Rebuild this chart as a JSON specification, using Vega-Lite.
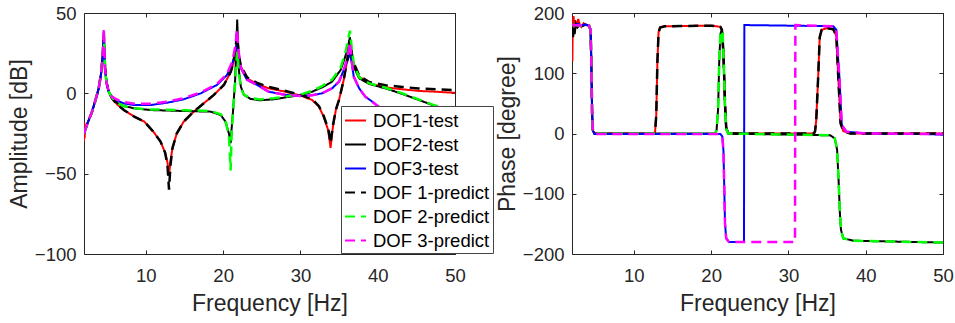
{
  "$schema": "https://vega.github.io/schema/vega-lite/v6.json",
  "background": "white",
  "padding": {"left": 7, "top": 3, "right": 2, "bottom": 2},
  "bounds": "flush",
  "spacing": 117,
  "config": {
    "font": "Liberation Sans",
    "view": {"stroke": "#262626", "strokeWidth": 1},
    "axis": {
      "grid": false,
      "domain": false,
      "ticks": true,
      "tickColor": "#262626",
      "tickSize": -4,
      "labelFont": "Liberation Sans",
      "labelFontSize": 18.5,
      "labelColor": "#262626",
      "labelPadding": 12,
      "labelFlush": false,
      "titleFont": "Liberation Sans",
      "titleFontSize": 23,
      "titleFontWeight": "normal",
      "titleColor": "#262626"
    }
  },
  "datasets": {
    "amp": [
      {"s":"DOF1-test","f":2,"v":-30},{"s":"DOF1-test","f":2.04,"v":-18},{"s":"DOF1-test","f":2.08,"v":-28},{"s":"DOF1-test","f":2.15,"v":-21},{"s":"DOF1-test","f":2.3,"v":-20},{"s":"DOF1-test","f":2.6,"v":-17},{"s":"DOF1-test","f":3,"v":-12},{"s":"DOF1-test","f":3.5,"v":-4},{"s":"DOF1-test","f":3.9,"v":3},{"s":"DOF1-test","f":4.2,"v":12},{"s":"DOF1-test","f":4.4,"v":22},{"s":"DOF1-test","f":4.5,"v":30},{"s":"DOF1-test","f":4.56,"v":35},{"s":"DOF1-test","f":4.62,"v":29},{"s":"DOF1-test","f":4.72,"v":16},{"s":"DOF1-test","f":4.9,"v":7},{"s":"DOF1-test","f":5.2,"v":1},{"s":"DOF1-test","f":5.6,"v":-3},{"s":"DOF1-test","f":6.3,"v":-7},{"s":"DOF1-test","f":7.2,"v":-10.5},{"s":"DOF1-test","f":8.5,"v":-14.5},{"s":"DOF1-test","f":9.8,"v":-17.6},{"s":"DOF1-test","f":11,"v":-24},{"s":"DOF1-test","f":11.9,"v":-30},{"s":"DOF1-test","f":12.5,"v":-37},{"s":"DOF1-test","f":12.8,"v":-43},{"s":"DOF1-test","f":13,"v":-51},{"s":"DOF1-test","f":13.2,"v":-42},{"s":"DOF1-test","f":13.45,"v":-34},{"s":"DOF1-test","f":14,"v":-25},{"s":"DOF1-test","f":14.9,"v":-17.6},{"s":"DOF1-test","f":16.2,"v":-11.4},{"s":"DOF1-test","f":17.5,"v":-6.2},{"s":"DOF1-test","f":18.8,"v":-1},{"s":"DOF1-test","f":20.1,"v":5.2},{"s":"DOF1-test","f":21,"v":13.5},{"s":"DOF1-test","f":21.5,"v":22},{"s":"DOF1-test","f":21.8,"v":30},{"s":"DOF1-test","f":22.05,"v":22},{"s":"DOF1-test","f":22.3,"v":16.6},{"s":"DOF1-test","f":23.1,"v":9.3},{"s":"DOF1-test","f":24.4,"v":5.8},{"s":"DOF1-test","f":25.9,"v":3.1},{"s":"DOF1-test","f":28.1,"v":1},{"s":"DOF1-test","f":30.2,"v":-1.7},{"s":"DOF1-test","f":31.5,"v":-4.1},{"s":"DOF1-test","f":32.4,"v":-8.3},{"s":"DOF1-test","f":33,"v":-14.5},{"s":"DOF1-test","f":33.6,"v":-23},{"s":"DOF1-test","f":33.9,"v":-34},{"s":"DOF1-test","f":34.2,"v":-21},{"s":"DOF1-test","f":34.6,"v":-10},{"s":"DOF1-test","f":35,"v":-4},{"s":"DOF1-test","f":35.6,"v":8.3},{"s":"DOF1-test","f":36.06,"v":20.7},{"s":"DOF1-test","f":36.4,"v":29},{"s":"DOF1-test","f":36.7,"v":22},{"s":"DOF1-test","f":36.9,"v":18.7},{"s":"DOF1-test","f":37.6,"v":10.4},{"s":"DOF1-test","f":38.9,"v":6.2},{"s":"DOF1-test","f":41,"v":3.7},{"s":"DOF1-test","f":43.2,"v":2.5},{"s":"DOF1-test","f":45.3,"v":1.5},{"s":"DOF1-test","f":47.5,"v":1},{"s":"DOF1-test","f":50,"v":0.3},

      {"s":"DOF2-test","f":2,"v":-25},{"s":"DOF2-test","f":2.5,"v":-18},{"s":"DOF2-test","f":3,"v":-12},{"s":"DOF2-test","f":3.5,"v":-4},{"s":"DOF2-test","f":3.9,"v":3},{"s":"DOF2-test","f":4.2,"v":12},{"s":"DOF2-test","f":4.4,"v":22},{"s":"DOF2-test","f":4.5,"v":31},{"s":"DOF2-test","f":4.56,"v":37},{"s":"DOF2-test","f":4.62,"v":30},{"s":"DOF2-test","f":4.72,"v":16},{"s":"DOF2-test","f":4.9,"v":7},{"s":"DOF2-test","f":5.2,"v":1},{"s":"DOF2-test","f":5.6,"v":-2.5},{"s":"DOF2-test","f":6.3,"v":-6},{"s":"DOF2-test","f":7.2,"v":-8},{"s":"DOF2-test","f":8.5,"v":-9.3},{"s":"DOF2-test","f":10.6,"v":-10.4},{"s":"DOF2-test","f":14.9,"v":-11},{"s":"DOF2-test","f":18.4,"v":-11.4},{"s":"DOF2-test","f":19.7,"v":-13.5},{"s":"DOF2-test","f":20.3,"v":-17.6},{"s":"DOF2-test","f":20.75,"v":-25},{"s":"DOF2-test","f":20.97,"v":-31},{"s":"DOF2-test","f":21.1,"v":-22},{"s":"DOF2-test","f":21.3,"v":-10},{"s":"DOF2-test","f":21.55,"v":8},{"s":"DOF2-test","f":21.72,"v":30},{"s":"DOF2-test","f":21.82,"v":46},{"s":"DOF2-test","f":21.92,"v":32},{"s":"DOF2-test","f":22.05,"v":14},{"s":"DOF2-test","f":22.3,"v":4},{"s":"DOF2-test","f":22.7,"v":-1},{"s":"DOF2-test","f":23.55,"v":-3.5},{"s":"DOF2-test","f":24.8,"v":-4.3},{"s":"DOF2-test","f":26.6,"v":-3.7},{"s":"DOF2-test","f":28.1,"v":-2.5},{"s":"DOF2-test","f":30.2,"v":-1},{"s":"DOF2-test","f":31.5,"v":1},{"s":"DOF2-test","f":32.8,"v":3.7},{"s":"DOF2-test","f":34.1,"v":7.3},{"s":"DOF2-test","f":35.2,"v":14.5},{"s":"DOF2-test","f":35.8,"v":22.8},{"s":"DOF2-test","f":36.2,"v":30},{"s":"DOF2-test","f":36.4,"v":35},{"s":"DOF2-test","f":36.6,"v":27},{"s":"DOF2-test","f":36.9,"v":16.6},{"s":"DOF2-test","f":37.6,"v":9.3},{"s":"DOF2-test","f":38.9,"v":5.8},{"s":"DOF2-test","f":41,"v":3.1},{"s":"DOF2-test","f":43.2,"v":-0.4},{"s":"DOF2-test","f":45.3,"v":-4.1},{"s":"DOF2-test","f":47.1,"v":-7.3},{"s":"DOF2-test","f":48.5,"v":-9.5},{"s":"DOF2-test","f":50,"v":-11},

      {"s":"DOF3-test","f":2,"v":-25},{"s":"DOF3-test","f":2.5,"v":-18},{"s":"DOF3-test","f":3,"v":-12},{"s":"DOF3-test","f":3.5,"v":-4},{"s":"DOF3-test","f":3.9,"v":3},{"s":"DOF3-test","f":4.2,"v":12},{"s":"DOF3-test","f":4.4,"v":22},{"s":"DOF3-test","f":4.5,"v":31},{"s":"DOF3-test","f":4.56,"v":38},{"s":"DOF3-test","f":4.62,"v":30},{"s":"DOF3-test","f":4.72,"v":16},{"s":"DOF3-test","f":4.9,"v":7},{"s":"DOF3-test","f":5.2,"v":1},{"s":"DOF3-test","f":5.6,"v":-2},{"s":"DOF3-test","f":6.3,"v":-4.6},{"s":"DOF3-test","f":7.2,"v":-6.3},{"s":"DOF3-test","f":8.5,"v":-7.3},{"s":"DOF3-test","f":10.6,"v":-7.3},{"s":"DOF3-test","f":12.8,"v":-5.8},{"s":"DOF3-test","f":14.9,"v":-3.7},{"s":"DOF3-test","f":17.1,"v":0},{"s":"DOF3-test","f":19.2,"v":5.2},{"s":"DOF3-test","f":20.5,"v":11.4},{"s":"DOF3-test","f":21.2,"v":18.7},{"s":"DOF3-test","f":21.6,"v":26},{"s":"DOF3-test","f":21.8,"v":32},{"s":"DOF3-test","f":22,"v":25},{"s":"DOF3-test","f":22.3,"v":15.6},{"s":"DOF3-test","f":23.1,"v":8.3},{"s":"DOF3-test","f":24.4,"v":5.2},{"s":"DOF3-test","f":25.9,"v":1},{"s":"DOF3-test","f":28.1,"v":-1},{"s":"DOF3-test","f":30.2,"v":-1.7},{"s":"DOF3-test","f":31.5,"v":-1.2},{"s":"DOF3-test","f":32.8,"v":0},{"s":"DOF3-test","f":34.1,"v":3.1},{"s":"DOF3-test","f":35,"v":7.3},{"s":"DOF3-test","f":35.6,"v":14.5},{"s":"DOF3-test","f":36.06,"v":20},{"s":"DOF3-test","f":36.4,"v":25},{"s":"DOF3-test","f":36.7,"v":17},{"s":"DOF3-test","f":36.9,"v":10.4},{"s":"DOF3-test","f":37.6,"v":3.1},{"s":"DOF3-test","f":38.4,"v":-2.1},{"s":"DOF3-test","f":39.3,"v":-5.2},{"s":"DOF3-test","f":40.1,"v":-8.3},{"s":"DOF3-test","f":42,"v":-13},{"s":"DOF3-test","f":45,"v":-19},{"s":"DOF3-test","f":50,"v":-26},

      {"s":"DOF 1-predict","f":2,"v":-25},{"s":"DOF 1-predict","f":2.5,"v":-18},{"s":"DOF 1-predict","f":3,"v":-12},{"s":"DOF 1-predict","f":3.5,"v":-4},{"s":"DOF 1-predict","f":3.9,"v":3},{"s":"DOF 1-predict","f":4.2,"v":12},{"s":"DOF 1-predict","f":4.4,"v":22},{"s":"DOF 1-predict","f":4.5,"v":30},{"s":"DOF 1-predict","f":4.56,"v":36},{"s":"DOF 1-predict","f":4.62,"v":29},{"s":"DOF 1-predict","f":4.72,"v":16},{"s":"DOF 1-predict","f":4.9,"v":7},{"s":"DOF 1-predict","f":5.2,"v":1},{"s":"DOF 1-predict","f":5.6,"v":-3},{"s":"DOF 1-predict","f":6.3,"v":-7},{"s":"DOF 1-predict","f":7.2,"v":-10.5},{"s":"DOF 1-predict","f":8.5,"v":-14.5},{"s":"DOF 1-predict","f":9.8,"v":-17.6},{"s":"DOF 1-predict","f":11,"v":-24},{"s":"DOF 1-predict","f":11.9,"v":-30},{"s":"DOF 1-predict","f":12.5,"v":-37},{"s":"DOF 1-predict","f":12.8,"v":-45},{"s":"DOF 1-predict","f":13,"v":-60},{"s":"DOF 1-predict","f":13.2,"v":-44},{"s":"DOF 1-predict","f":13.45,"v":-34},{"s":"DOF 1-predict","f":14,"v":-25},{"s":"DOF 1-predict","f":14.9,"v":-17.6},{"s":"DOF 1-predict","f":16.2,"v":-11.4},{"s":"DOF 1-predict","f":17.5,"v":-6.2},{"s":"DOF 1-predict","f":18.8,"v":-1},{"s":"DOF 1-predict","f":20.1,"v":5.2},{"s":"DOF 1-predict","f":21,"v":13.5},{"s":"DOF 1-predict","f":21.5,"v":23},{"s":"DOF 1-predict","f":21.8,"v":37},{"s":"DOF 1-predict","f":22.05,"v":23},{"s":"DOF 1-predict","f":22.3,"v":17},{"s":"DOF 1-predict","f":23.1,"v":10},{"s":"DOF 1-predict","f":24.4,"v":6.5},{"s":"DOF 1-predict","f":25.9,"v":4},{"s":"DOF 1-predict","f":28.1,"v":1.5},{"s":"DOF 1-predict","f":30.2,"v":-1.2},{"s":"DOF 1-predict","f":31.5,"v":-3.6},{"s":"DOF 1-predict","f":32.4,"v":-8},{"s":"DOF 1-predict","f":33,"v":-14},{"s":"DOF 1-predict","f":33.6,"v":-22},{"s":"DOF 1-predict","f":33.9,"v":-31},{"s":"DOF 1-predict","f":34.2,"v":-20},{"s":"DOF 1-predict","f":34.6,"v":-10},{"s":"DOF 1-predict","f":35,"v":-4},{"s":"DOF 1-predict","f":35.6,"v":8.3},{"s":"DOF 1-predict","f":36.06,"v":21},{"s":"DOF 1-predict","f":36.4,"v":33},{"s":"DOF 1-predict","f":36.7,"v":23},{"s":"DOF 1-predict","f":36.9,"v":19},{"s":"DOF 1-predict","f":37.6,"v":11},{"s":"DOF 1-predict","f":38.9,"v":7},{"s":"DOF 1-predict","f":41,"v":5},{"s":"DOF 1-predict","f":43.2,"v":4},{"s":"DOF 1-predict","f":45.3,"v":3},{"s":"DOF 1-predict","f":47.5,"v":2.5},{"s":"DOF 1-predict","f":50,"v":2},

      {"s":"DOF 2-predict","f":2,"v":-25},{"s":"DOF 2-predict","f":2.5,"v":-18},{"s":"DOF 2-predict","f":3,"v":-12},{"s":"DOF 2-predict","f":3.5,"v":-4},{"s":"DOF 2-predict","f":3.9,"v":3},{"s":"DOF 2-predict","f":4.2,"v":12},{"s":"DOF 2-predict","f":4.4,"v":22},{"s":"DOF 2-predict","f":4.5,"v":31},{"s":"DOF 2-predict","f":4.56,"v":37},{"s":"DOF 2-predict","f":4.62,"v":30},{"s":"DOF 2-predict","f":4.72,"v":16},{"s":"DOF 2-predict","f":4.9,"v":7},{"s":"DOF 2-predict","f":5.2,"v":1},{"s":"DOF 2-predict","f":5.6,"v":-2.5},{"s":"DOF 2-predict","f":6.3,"v":-6},{"s":"DOF 2-predict","f":7.2,"v":-8},{"s":"DOF 2-predict","f":8.5,"v":-9.3},{"s":"DOF 2-predict","f":10.6,"v":-10},{"s":"DOF 2-predict","f":14.9,"v":-10.5},{"s":"DOF 2-predict","f":18.4,"v":-11},{"s":"DOF 2-predict","f":19.7,"v":-13},{"s":"DOF 2-predict","f":20.3,"v":-17},{"s":"DOF 2-predict","f":20.75,"v":-26},{"s":"DOF 2-predict","f":20.97,"v":-48},{"s":"DOF 2-predict","f":21.1,"v":-26},{"s":"DOF 2-predict","f":21.3,"v":-10},{"s":"DOF 2-predict","f":21.55,"v":6},{"s":"DOF 2-predict","f":21.72,"v":20},{"s":"DOF 2-predict","f":21.82,"v":26},{"s":"DOF 2-predict","f":21.92,"v":22},{"s":"DOF 2-predict","f":22.05,"v":12},{"s":"DOF 2-predict","f":22.3,"v":3},{"s":"DOF 2-predict","f":22.7,"v":-1},{"s":"DOF 2-predict","f":23.55,"v":-3},{"s":"DOF 2-predict","f":24.8,"v":-3.8},{"s":"DOF 2-predict","f":26.6,"v":-3},{"s":"DOF 2-predict","f":28.1,"v":-2},{"s":"DOF 2-predict","f":30.2,"v":-0.5},{"s":"DOF 2-predict","f":31.5,"v":1.5},{"s":"DOF 2-predict","f":32.8,"v":4.5},{"s":"DOF 2-predict","f":34.1,"v":8.5},{"s":"DOF 2-predict","f":35.2,"v":16},{"s":"DOF 2-predict","f":35.8,"v":25},{"s":"DOF 2-predict","f":36.2,"v":34},{"s":"DOF 2-predict","f":36.4,"v":39},{"s":"DOF 2-predict","f":36.6,"v":30},{"s":"DOF 2-predict","f":36.9,"v":18},{"s":"DOF 2-predict","f":37.6,"v":10},{"s":"DOF 2-predict","f":38.9,"v":6.2},{"s":"DOF 2-predict","f":41,"v":3.5},{"s":"DOF 2-predict","f":43.2,"v":0},{"s":"DOF 2-predict","f":45.3,"v":-3.8},{"s":"DOF 2-predict","f":47.1,"v":-7},{"s":"DOF 2-predict","f":48.5,"v":-9.3},{"s":"DOF 2-predict","f":50,"v":-11},

      {"s":"DOF 3-predict","f":2,"v":-25},{"s":"DOF 3-predict","f":2.5,"v":-18},{"s":"DOF 3-predict","f":3,"v":-12},{"s":"DOF 3-predict","f":3.5,"v":-4},{"s":"DOF 3-predict","f":3.9,"v":3},{"s":"DOF 3-predict","f":4.2,"v":12},{"s":"DOF 3-predict","f":4.4,"v":22},{"s":"DOF 3-predict","f":4.5,"v":32},{"s":"DOF 3-predict","f":4.56,"v":40.5},{"s":"DOF 3-predict","f":4.62,"v":31},{"s":"DOF 3-predict","f":4.72,"v":16},{"s":"DOF 3-predict","f":4.9,"v":7},{"s":"DOF 3-predict","f":5.2,"v":1},{"s":"DOF 3-predict","f":5.6,"v":-2},{"s":"DOF 3-predict","f":6.3,"v":-4},{"s":"DOF 3-predict","f":7.2,"v":-5.5},{"s":"DOF 3-predict","f":8.5,"v":-6.5},{"s":"DOF 3-predict","f":10.6,"v":-6.5},{"s":"DOF 3-predict","f":12.8,"v":-5.2},{"s":"DOF 3-predict","f":14.9,"v":-3},{"s":"DOF 3-predict","f":17.1,"v":0.5},{"s":"DOF 3-predict","f":19.2,"v":5.8},{"s":"DOF 3-predict","f":20.5,"v":12},{"s":"DOF 3-predict","f":21.2,"v":20},{"s":"DOF 3-predict","f":21.6,"v":30},{"s":"DOF 3-predict","f":21.8,"v":40},{"s":"DOF 3-predict","f":22,"v":26},{"s":"DOF 3-predict","f":22.3,"v":16},{"s":"DOF 3-predict","f":23.1,"v":8.5},{"s":"DOF 3-predict","f":24.4,"v":5.2},{"s":"DOF 3-predict","f":25.9,"v":1},{"s":"DOF 3-predict","f":28.1,"v":-1},{"s":"DOF 3-predict","f":30.2,"v":-1.7},{"s":"DOF 3-predict","f":31.5,"v":-1.2},{"s":"DOF 3-predict","f":32.8,"v":0},{"s":"DOF 3-predict","f":34.1,"v":3.1},{"s":"DOF 3-predict","f":35,"v":7.3},{"s":"DOF 3-predict","f":35.6,"v":14.5},{"s":"DOF 3-predict","f":36.06,"v":22},{"s":"DOF 3-predict","f":36.4,"v":32},{"s":"DOF 3-predict","f":36.7,"v":18},{"s":"DOF 3-predict","f":36.9,"v":10.4},{"s":"DOF 3-predict","f":37.6,"v":3.1},{"s":"DOF 3-predict","f":38.4,"v":-2.1},{"s":"DOF 3-predict","f":39.3,"v":-5.2},{"s":"DOF 3-predict","f":40.1,"v":-8.3},{"s":"DOF 3-predict","f":42,"v":-13},{"s":"DOF 3-predict","f":45,"v":-19},{"s":"DOF 3-predict","f":50,"v":-26}
    ],
    "phase": [
      {"s":"DOF1-test","f":2,"v":165},{"s":"DOF1-test","f":2.05,"v":120},{"s":"DOF1-test","f":2.1,"v":185},{"s":"DOF1-test","f":2.2,"v":195},{"s":"DOF1-test","f":2.3,"v":176},{"s":"DOF1-test","f":2.4,"v":188},{"s":"DOF1-test","f":2.6,"v":178},{"s":"DOF1-test","f":2.8,"v":190},{"s":"DOF1-test","f":3,"v":181},{"s":"DOF1-test","f":3.2,"v":177},{"s":"DOF1-test","f":3.5,"v":183},{"s":"DOF1-test","f":3.8,"v":180},{"s":"DOF1-test","f":4.2,"v":179},{"s":"DOF1-test","f":4.4,"v":172},{"s":"DOF1-test","f":4.5,"v":120},{"s":"DOF1-test","f":4.6,"v":35},{"s":"DOF1-test","f":4.7,"v":5},{"s":"DOF1-test","f":4.9,"v":0},{"s":"DOF1-test","f":12.6,"v":0},{"s":"DOF1-test","f":12.75,"v":3},{"s":"DOF1-test","f":12.9,"v":30},{"s":"DOF1-test","f":13.05,"v":120},{"s":"DOF1-test","f":13.2,"v":168},{"s":"DOF1-test","f":13.4,"v":176},{"s":"DOF1-test","f":14,"v":178},{"s":"DOF1-test","f":20,"v":179},{"s":"DOF1-test","f":21.2,"v":177},{"s":"DOF1-test","f":21.4,"v":172},{"s":"DOF1-test","f":21.6,"v":130},{"s":"DOF1-test","f":21.8,"v":50},{"s":"DOF1-test","f":21.95,"v":10},{"s":"DOF1-test","f":22.2,"v":0},{"s":"DOF1-test","f":33.3,"v":0},{"s":"DOF1-test","f":33.45,"v":4},{"s":"DOF1-test","f":33.6,"v":22},{"s":"DOF1-test","f":33.85,"v":94},{"s":"DOF1-test","f":34.05,"v":160},{"s":"DOF1-test","f":34.3,"v":172},{"s":"DOF1-test","f":35,"v":175},{"s":"DOF1-test","f":35.8,"v":173},{"s":"DOF1-test","f":36.2,"v":162},{"s":"DOF1-test","f":36.45,"v":94},{"s":"DOF1-test","f":36.75,"v":17},{"s":"DOF1-test","f":37.1,"v":4},{"s":"DOF1-test","f":38,"v":0},{"s":"DOF1-test","f":50,"v":0},

      {"s":"DOF2-test","f":2,"v":178},{"s":"DOF2-test","f":2.1,"v":172},{"s":"DOF2-test","f":2.15,"v":160},{"s":"DOF2-test","f":2.25,"v":175},{"s":"DOF2-test","f":2.35,"v":165},{"s":"DOF2-test","f":2.5,"v":182},{"s":"DOF2-test","f":2.7,"v":176},{"s":"DOF2-test","f":3,"v":180},{"s":"DOF2-test","f":3.4,"v":178},{"s":"DOF2-test","f":3.8,"v":181},{"s":"DOF2-test","f":4.2,"v":179},{"s":"DOF2-test","f":4.4,"v":172},{"s":"DOF2-test","f":4.5,"v":120},{"s":"DOF2-test","f":4.6,"v":35},{"s":"DOF2-test","f":4.7,"v":5},{"s":"DOF2-test","f":4.9,"v":0},{"s":"DOF2-test","f":20.5,"v":0},{"s":"DOF2-test","f":20.7,"v":5},{"s":"DOF2-test","f":20.9,"v":40},{"s":"DOF2-test","f":21.05,"v":120},{"s":"DOF2-test","f":21.2,"v":165},{"s":"DOF2-test","f":21.35,"v":171},{"s":"DOF2-test","f":21.5,"v":165},{"s":"DOF2-test","f":21.65,"v":110},{"s":"DOF2-test","f":21.8,"v":40},{"s":"DOF2-test","f":21.95,"v":8},{"s":"DOF2-test","f":22.2,"v":0},{"s":"DOF2-test","f":35.4,"v":-3},{"s":"DOF2-test","f":36,"v":-8},{"s":"DOF2-test","f":36.3,"v":-27},{"s":"DOF2-test","f":36.5,"v":-80},{"s":"DOF2-test","f":36.65,"v":-130},{"s":"DOF2-test","f":36.8,"v":-160},{"s":"DOF2-test","f":37.1,"v":-174},{"s":"DOF2-test","f":38.4,"v":-178},{"s":"DOF2-test","f":50,"v":-181},

      {"s":"DOF3-test","f":2,"v":181},{"s":"DOF3-test","f":2.3,"v":179},{"s":"DOF3-test","f":2.8,"v":182},{"s":"DOF3-test","f":3.2,"v":179},{"s":"DOF3-test","f":3.6,"v":181},{"s":"DOF3-test","f":4.2,"v":179},{"s":"DOF3-test","f":4.4,"v":172},{"s":"DOF3-test","f":4.5,"v":120},{"s":"DOF3-test","f":4.6,"v":35},{"s":"DOF3-test","f":4.7,"v":5},{"s":"DOF3-test","f":4.9,"v":-1},{"s":"DOF3-test","f":21.2,"v":-1},{"s":"DOF3-test","f":21.45,"v":-5},{"s":"DOF3-test","f":21.6,"v":-30},{"s":"DOF3-test","f":21.7,"v":-90},{"s":"DOF3-test","f":21.8,"v":-150},{"s":"DOF3-test","f":21.95,"v":-174},{"s":"DOF3-test","f":22.3,"v":-180},{"s":"DOF3-test","f":24.25,"v":-180},{"s":"DOF3-test","f":24.3,"v":180},{"s":"DOF3-test","f":35.8,"v":178},{"s":"DOF3-test","f":36.2,"v":172},{"s":"DOF3-test","f":36.45,"v":120},{"s":"DOF3-test","f":36.6,"v":94},{"s":"DOF3-test","f":36.9,"v":14},{"s":"DOF3-test","f":37.5,"v":3},{"s":"DOF3-test","f":40,"v":0},{"s":"DOF3-test","f":48,"v":-1},{"s":"DOF3-test","f":50,"v":-2},

      {"s":"DOF 1-predict","f":2,"v":180},{"s":"DOF 1-predict","f":4.2,"v":179},{"s":"DOF 1-predict","f":4.4,"v":172},{"s":"DOF 1-predict","f":4.5,"v":120},{"s":"DOF 1-predict","f":4.6,"v":35},{"s":"DOF 1-predict","f":4.7,"v":5},{"s":"DOF 1-predict","f":4.9,"v":0},{"s":"DOF 1-predict","f":12.6,"v":0},{"s":"DOF 1-predict","f":12.75,"v":3},{"s":"DOF 1-predict","f":12.9,"v":30},{"s":"DOF 1-predict","f":13.05,"v":120},{"s":"DOF 1-predict","f":13.2,"v":168},{"s":"DOF 1-predict","f":13.4,"v":176},{"s":"DOF 1-predict","f":14,"v":178},{"s":"DOF 1-predict","f":20,"v":179},{"s":"DOF 1-predict","f":21.2,"v":177},{"s":"DOF 1-predict","f":21.4,"v":172},{"s":"DOF 1-predict","f":21.6,"v":130},{"s":"DOF 1-predict","f":21.8,"v":50},{"s":"DOF 1-predict","f":21.95,"v":10},{"s":"DOF 1-predict","f":22.2,"v":0},{"s":"DOF 1-predict","f":33.3,"v":0},{"s":"DOF 1-predict","f":33.45,"v":4},{"s":"DOF 1-predict","f":33.6,"v":22},{"s":"DOF 1-predict","f":33.85,"v":94},{"s":"DOF 1-predict","f":34.05,"v":160},{"s":"DOF 1-predict","f":34.3,"v":172},{"s":"DOF 1-predict","f":35,"v":175},{"s":"DOF 1-predict","f":35.8,"v":173},{"s":"DOF 1-predict","f":36.2,"v":162},{"s":"DOF 1-predict","f":36.45,"v":94},{"s":"DOF 1-predict","f":36.75,"v":17},{"s":"DOF 1-predict","f":37.1,"v":4},{"s":"DOF 1-predict","f":38,"v":0},{"s":"DOF 1-predict","f":50,"v":0},

      {"s":"DOF 2-predict","f":2,"v":180},{"s":"DOF 2-predict","f":4.2,"v":179},{"s":"DOF 2-predict","f":4.4,"v":172},{"s":"DOF 2-predict","f":4.5,"v":120},{"s":"DOF 2-predict","f":4.6,"v":35},{"s":"DOF 2-predict","f":4.7,"v":5},{"s":"DOF 2-predict","f":4.9,"v":0},{"s":"DOF 2-predict","f":20.5,"v":0},{"s":"DOF 2-predict","f":20.7,"v":5},{"s":"DOF 2-predict","f":20.9,"v":40},{"s":"DOF 2-predict","f":21.05,"v":120},{"s":"DOF 2-predict","f":21.2,"v":165},{"s":"DOF 2-predict","f":21.35,"v":171},{"s":"DOF 2-predict","f":21.5,"v":165},{"s":"DOF 2-predict","f":21.65,"v":110},{"s":"DOF 2-predict","f":21.8,"v":40},{"s":"DOF 2-predict","f":21.95,"v":8},{"s":"DOF 2-predict","f":22.2,"v":0},{"s":"DOF 2-predict","f":35.4,"v":-3},{"s":"DOF 2-predict","f":36,"v":-8},{"s":"DOF 2-predict","f":36.3,"v":-27},{"s":"DOF 2-predict","f":36.5,"v":-80},{"s":"DOF 2-predict","f":36.65,"v":-130},{"s":"DOF 2-predict","f":36.8,"v":-160},{"s":"DOF 2-predict","f":37.1,"v":-174},{"s":"DOF 2-predict","f":38.4,"v":-178},{"s":"DOF 2-predict","f":50,"v":-181},

      {"s":"DOF 3-predict","f":2,"v":180},{"s":"DOF 3-predict","f":4.2,"v":179},{"s":"DOF 3-predict","f":4.4,"v":172},{"s":"DOF 3-predict","f":4.5,"v":120},{"s":"DOF 3-predict","f":4.6,"v":35},{"s":"DOF 3-predict","f":4.7,"v":5},{"s":"DOF 3-predict","f":4.9,"v":-1},{"s":"DOF 3-predict","f":21.2,"v":-1},{"s":"DOF 3-predict","f":21.45,"v":-5},{"s":"DOF 3-predict","f":21.6,"v":-30},{"s":"DOF 3-predict","f":21.7,"v":-90},{"s":"DOF 3-predict","f":21.8,"v":-150},{"s":"DOF 3-predict","f":21.95,"v":-174},{"s":"DOF 3-predict","f":22.3,"v":-180},{"s":"DOF 3-predict","f":30.85,"v":-180},{"s":"DOF 3-predict","f":30.9,"v":180},{"s":"DOF 3-predict","f":35.8,"v":178},{"s":"DOF 3-predict","f":36.2,"v":172},{"s":"DOF 3-predict","f":36.45,"v":120},{"s":"DOF 3-predict","f":36.6,"v":94},{"s":"DOF 3-predict","f":36.9,"v":14},{"s":"DOF 3-predict","f":37.5,"v":3},{"s":"DOF 3-predict","f":40,"v":0},{"s":"DOF 3-predict","f":50,"v":-1}
    ]
  },
  "resolve": {"scale": {"color": "independent", "strokeDash": "independent", "x": "independent", "y": "independent"}},
  "hconcat": [
    {
      "width": 371,
      "height": 241,
      "data": {"name": "amp"},
      "layer": [
        {
          "transform": [{"filter": "indexof(datum.s, 'test') >= 0"}],
          "mark": {"type": "line", "strokeWidth": 2, "clip": true},
          "encoding": {
            "x": {"field": "f", "type": "quantitative", "scale": {"domain": [2, 50], "nice": false, "zero": false}, "axis": {"values": [10, 20, 30, 40, 50], "title": "Frequency [Hz]", "labelPadding": 16, "titlePadding": 8}},
            "y": {"field": "v", "type": "quantitative", "scale": {"domain": [-100, 50], "nice": false, "zero": false}, "axis": {"values": [-100, -50, 0, 50], "title": "Amplitude [dB]", "titlePadding": 3}},
            "color": {"field": "s", "type": "nominal", "scale": {"domain": ["DOF1-test", "DOF2-test", "DOF3-test", "DOF 1-predict", "DOF 2-predict", "DOF 3-predict"], "range": ["#ff0000", "#000000", "#0000ff", "#000000", "#00ff00", "#ff00ff"]}, "legend": {"title": null, "orient": "none", "legendX": 257, "legendY": 93, "padding": 3, "fillColor": "white", "strokeColor": "#444444", "labelFontSize": 18.5, "labelColor": "#000000", "labelFont": "Liberation Sans", "symbolSize": 441, "symbolStrokeWidth": 2, "symbolType": "stroke", "rowPadding": 3, "labelOffset": 6}},
            "strokeDash": {"field": "s", "type": "nominal", "scale": {"domain": ["DOF1-test", "DOF2-test", "DOF3-test", "DOF 1-predict", "DOF 2-predict", "DOF 3-predict"], "range": [[1, 0], [1, 0], [1, 0], [10, 6], [10, 6], [10, 6]]}, "legend": {"title": null, "orient": "none", "legendX": 257, "legendY": 93, "padding": 3, "fillColor": "white", "strokeColor": "#444444", "labelFontSize": 18.5, "labelColor": "#000000", "labelFont": "Liberation Sans", "symbolSize": 441, "symbolStrokeWidth": 2, "symbolType": "stroke", "rowPadding": 3, "labelOffset": 6}}
          }
        },
        {
          "transform": [{"filter": "indexof(datum.s, 'predict') >= 0"}],
          "mark": {"type": "line", "strokeWidth": 2.5, "clip": true},
          "encoding": {
            "x": {"field": "f", "type": "quantitative", "scale": {"domain": [2, 50], "nice": false, "zero": false}, "axis": {"orient": "top", "values": [10, 20, 30, 40, 50], "labels": false, "title": null}},
            "y": {"field": "v", "type": "quantitative", "scale": {"domain": [-100, 50], "nice": false, "zero": false}, "axis": {"orient": "right", "values": [-100, -50, 0, 50], "labels": false, "title": null}},
            "color": {"field": "s", "type": "nominal", "scale": {"domain": ["DOF1-test", "DOF2-test", "DOF3-test", "DOF 1-predict", "DOF 2-predict", "DOF 3-predict"], "range": ["#ff0000", "#000000", "#0000ff", "#000000", "#00ff00", "#ff00ff"]}},
            "strokeDash": {"field": "s", "type": "nominal", "scale": {"domain": ["DOF1-test", "DOF2-test", "DOF3-test", "DOF 1-predict", "DOF 2-predict", "DOF 3-predict"], "range": [[1, 0], [1, 0], [1, 0], [10, 6], [10, 6], [10, 6]]}}
          }
        }
      ],
      "resolve": {"axis": {"x": "independent", "y": "independent"}}
    },
    {
      "width": 371,
      "height": 241,
      "data": {"name": "phase"},
      "layer": [
        {
          "transform": [{"filter": "indexof(datum.s, 'test') >= 0"}],
          "mark": {"type": "line", "strokeWidth": 2, "clip": true},
          "encoding": {
            "x": {"field": "f", "type": "quantitative", "scale": {"domain": [2, 50], "nice": false, "zero": false}, "axis": {"values": [10, 20, 30, 40, 50], "title": "Frequency [Hz]", "labelPadding": 16, "titlePadding": 8}},
            "y": {"field": "v", "type": "quantitative", "scale": {"domain": [-200, 200], "nice": false, "zero": false}, "axis": {"values": [-200, -100, 0, 100, 200], "title": "Phase [degree]", "titlePadding": 3}},
            "color": {"field": "s", "type": "nominal", "scale": {"domain": ["DOF1-test", "DOF2-test", "DOF3-test", "DOF 1-predict", "DOF 2-predict", "DOF 3-predict"], "range": ["#ff0000", "#000000", "#0000ff", "#000000", "#00ff00", "#ff00ff"]}, "legend": null},
            "strokeDash": {"field": "s", "type": "nominal", "scale": {"domain": ["DOF1-test", "DOF2-test", "DOF3-test", "DOF 1-predict", "DOF 2-predict", "DOF 3-predict"], "range": [[1, 0], [1, 0], [1, 0], [10, 6], [10, 6], [10, 6]]}, "legend": null}
          }
        },
        {
          "transform": [{"filter": "indexof(datum.s, 'predict') >= 0"}],
          "mark": {"type": "line", "strokeWidth": 2.5, "clip": true},
          "encoding": {
            "x": {"field": "f", "type": "quantitative", "scale": {"domain": [2, 50], "nice": false, "zero": false}, "axis": {"orient": "top", "values": [10, 20, 30, 40, 50], "labels": false, "title": null}},
            "y": {"field": "v", "type": "quantitative", "scale": {"domain": [-200, 200], "nice": false, "zero": false}, "axis": {"orient": "right", "values": [-200, -100, 0, 100, 200], "labels": false, "title": null}},
            "color": {"field": "s", "type": "nominal", "scale": {"domain": ["DOF1-test", "DOF2-test", "DOF3-test", "DOF 1-predict", "DOF 2-predict", "DOF 3-predict"], "range": ["#ff0000", "#000000", "#0000ff", "#000000", "#00ff00", "#ff00ff"]}, "legend": null},
            "strokeDash": {"field": "s", "type": "nominal", "scale": {"domain": ["DOF1-test", "DOF2-test", "DOF3-test", "DOF 1-predict", "DOF 2-predict", "DOF 3-predict"], "range": [[1, 0], [1, 0], [1, 0], [10, 6], [10, 6], [10, 6]]}, "legend": null}
          }
        }
      ],
      "resolve": {"axis": {"x": "independent", "y": "independent"}}
    }
  ]
}
